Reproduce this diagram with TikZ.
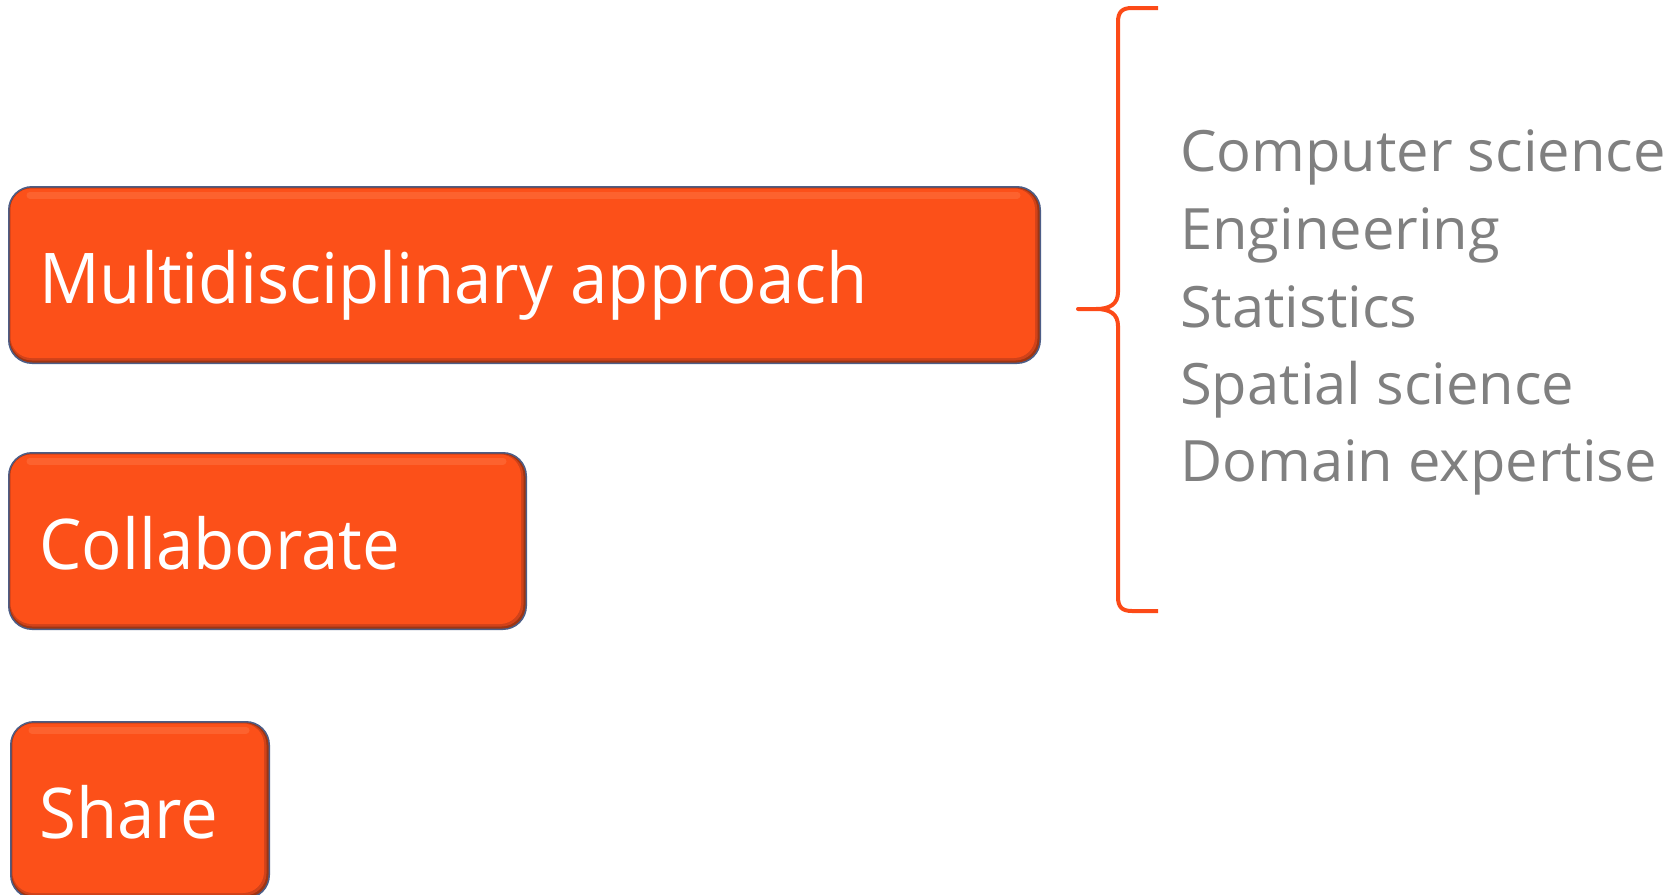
\documentclass[tikz,border=0pt]{standalone}
\usepackage{fontspec}
\setmainfont{Open Sans}
\newfontfamily\boxfont[FakeStretch=0.96]{Open Sans}
\newfontfamily\listfont[FakeStretch=1.015]{Open Sans}
\definecolor{orng}{HTML}{FC5019}
\definecolor{rimc}{HTML}{4D5E87}
\definecolor{shadowc}{HTML}{9E3512}
\definecolor{midc}{HTML}{D0421A}
\definecolor{hilite}{HTML}{FF7A48}
\definecolor{graytxt}{HTML}{808080}
\definecolor{bracec}{HTML}{FC4A17}
\tikzset{
  boxtext/.style={anchor=base west, inner sep=0pt, text=white, font=\boxfont\fontsize{70}{84}\selectfont},
  listtext/.style={anchor=base west, inner sep=0pt, text=graytxt, font=\listfont\fontsize{57}{68}\selectfont},
  bracepath/.style={draw=bracec, line width=4pt, line cap=butt, line join=round},
}
\newcommand\obox[6]{%
  \fill[rimc, rounded corners=24pt] (#2,#3) rectangle (#4,#5);
  \fill[shadowc, rounded corners=23pt] (#2+1.5,#3+1.5) rectangle (#4-1.5,#5-1.5);
  \fill[midc, rounded corners=22pt] (#2+2,#3+2) rectangle (#4-3.5,#5-3.5);
  \fill[orng, rounded corners=21pt] (#2+2.5,#3+2.5) rectangle (#4-6,#5-6);
  \draw[hilite, line width=7pt, line cap=round, opacity=0.45] (#2+22,#3+9) -- (#4-24,#3+9);
  \node[boxtext] (#1) at (39,#3+117) {#6};
}
\begin{document}
\begin{tikzpicture}[x=1pt,y=-1pt]
\useasboundingbox (0,0) rectangle (1675,894);
\obox{multi}{8}{186}{1041}{364}{Multidisciplinary approach}
\obox{collab}{8}{452}{527}{630}{Collaborate}
\obox{share}{10}{721}{270}{899}{Share}

\draw[bracepath] (1158,8) -- (1132,8) .. controls (1122,8) and (1118,12) .. (1118,22) -- (1118,292) .. controls (1118,304) and (1110,309) .. (1096,309) -- (1078,309) -- (1096,309) .. controls (1110,309) and (1118,314) .. (1118,326) -- (1118,597) .. controls (1118,607) and (1122,611) .. (1132,611) -- (1158,611);

\node[listtext] (cs) at (1180,171) {Computer science};
\node[listtext] (eng) at (1180,249) {Engineering};
\node[listtext] (stat) at (1180,327) {Statistics};
\node[listtext] (spat) at (1180,404) {Spatial science};
\node[listtext] (dom) at (1180,481) {Domain expertise};
\end{tikzpicture}
\end{document}
